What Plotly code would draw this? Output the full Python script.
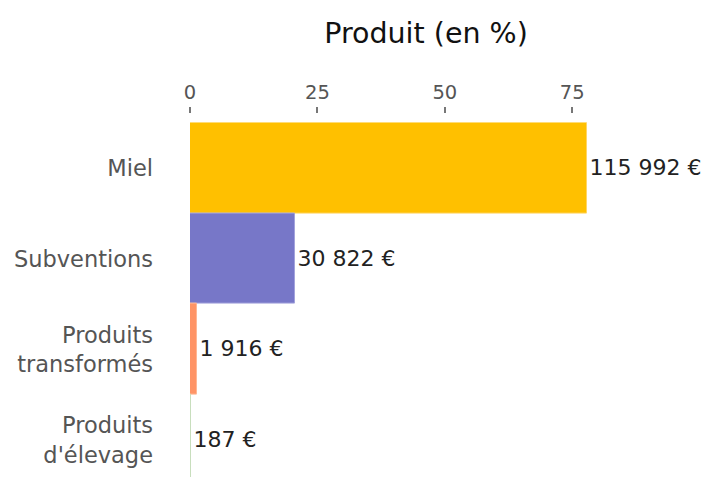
import plotly.graph_objects as go

categories = ["Miel", "Subventions", "Produits<br>transformés", "Produits<br>d'élevage"]
amounts = [115992, 30822, 1916, 187]
colors = ["#FFC000", "#7777C8", "#FF9466", "#DDEBD5"]
edge_colors = ["#FFD666", "#A3A3DC", "#FFB794", "#C8DEBD"]
tick_values = [0, 25, 50, 75]

total = sum(amounts)
pct = [a / total * 100 for a in amounts]
labels = [f"{a:,}".replace(",", " ") + " €" for a in amounts]

W, H = 703, 477
axis_top_px = 113
plot_top_px = 122.6
band_px = 90.7

fig = go.Figure(go.Bar(
    y=categories, x=pct, orientation="h",
    marker=dict(color=colors, line=dict(color=edge_colors, width=1)),
    text=labels, textposition="outside", cliponaxis=False, constraintext="none",
    textfont=dict(family="DejaVu Sans", size=22, color="#222222"),
    hoverinfo="skip",
))

plot_h = H - plot_top_px
fig.update_layout(
    width=W, height=H, autosize=False,
    margin=dict(l=190, r=W - 190 - max(pct) * (382.0 / 75), t=axis_top_px, b=0),
    paper_bgcolor="white", plot_bgcolor="white",
    bargap=0, showlegend=False,
    font=dict(family="DejaVu Sans"),
    title=dict(text="Produit (en %)", x=426 / W, xanchor="center",
               y=1 - 33 / H, yanchor="middle",
               font=dict(family="DejaVu Sans", size=28.5, color="#111111")),
    xaxis=dict(range=[0, max(pct)], side="top", anchor="free", position=1,
               tickvals=tick_values, ticks="outside", ticklen=6, tickwidth=1.5,
               tickcolor="#777777", showgrid=False, zeroline=False, showline=False,
               tickfont=dict(size=19.5, color="#555555")),
    yaxis=dict(domain=[0, (H - plot_top_px) / (H - axis_top_px)],
               range=[-0.5 + plot_h / band_px, -0.5],
               showgrid=False, zeroline=False, showline=False, ticks="",
               ticklabelstandoff=36,
               tickfont=dict(size=22.5, color="#555555")),
)

fig.write_html("out.html")
